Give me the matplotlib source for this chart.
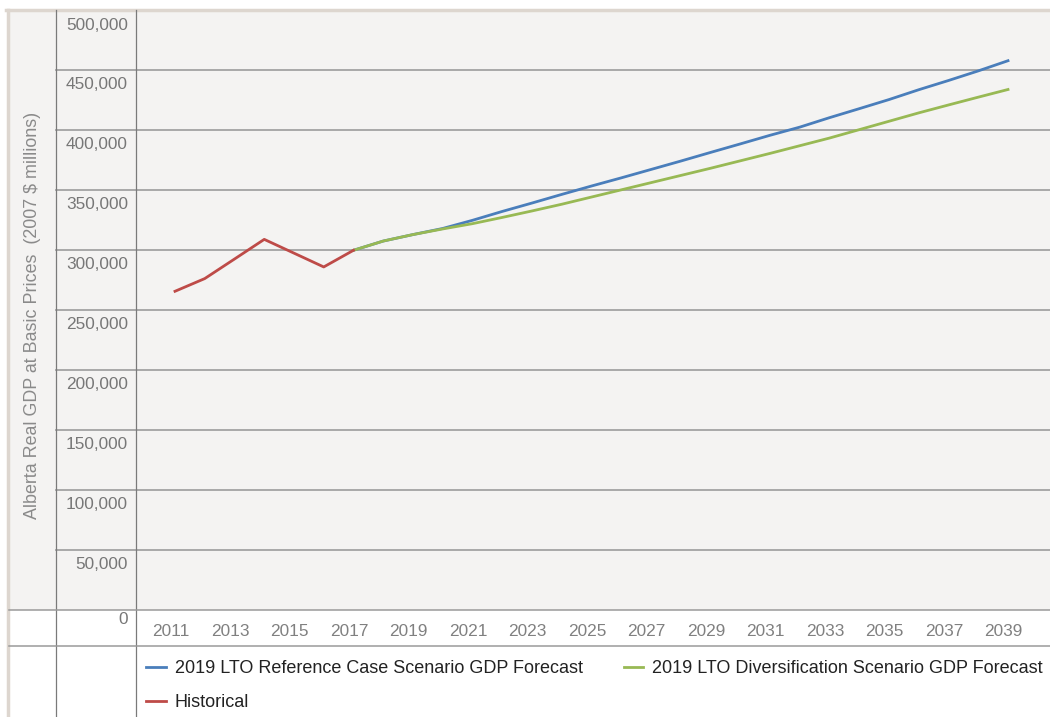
import matplotlib
matplotlib.use('Agg')
import matplotlib.pyplot as plt
import matplotlib.transforms as mtransforms
from matplotlib.lines import Line2D
from matplotlib.patches import Rectangle

plt.rcParams['font.family'] = ['Liberation Sans', 'DejaVu Sans']

hist_years = [2011, 2012, 2013, 2014, 2015, 2016, 2017]
hist_gdp = [265400, 276000, 292300, 308700, 297200, 285700, 299600]

fc_years = list(range(2017, 2040))
ref_gdp = [299600, 307300, 312700, 317800, 324600, 332000, 339000, 346200,
           353200, 360000, 367000, 374000, 381200, 388300, 395500, 402300,
           410200, 417700, 425300, 433500, 441200, 449200, 457700]
div_gdp = [299600, 307300, 312700, 317400, 321800, 327000, 332400, 338000,
           344000, 350000, 356000, 362000, 368000, 374200, 380400, 386800,
           393200, 400200, 407200, 414200, 420800, 427300, 433700]

yticks = [0, 50000, 100000, 150000, 200000, 250000, 300000, 350000,
          400000, 450000, 500000]
xticks = list(range(2011, 2040, 2))

W, H = 1050, 717
fig = plt.figure(figsize=(W / 100, H / 100), dpi=100)


def fx(px):
    return px / W


def fy(py):
    return 1 - py / H


# table frame: gray panel, white rows below, tan border
fig.patches.append(Rectangle((fx(8), fy(610)), 1 - fx(8), fy(10) - fy(610),
                             transform=fig.transFigure, facecolor='#f4f3f2',
                             edgecolor='none', zorder=-5))
fig.lines.append(Line2D([fx(6), 1], [fy(9.5), fy(9.5)], transform=fig.transFigure,
                        color='#ddd6cf', lw=2.5, zorder=1))
fig.lines.append(Line2D([fx(7.5), fx(7.5)], [fy(9.5), 0], transform=fig.transFigure,
                        color='#ddd6cf', lw=2.5, zorder=1))
for xv in (55.5, 135.5):
    fig.lines.append(Line2D([fx(xv), fx(xv)], [fy(10), 0], transform=fig.transFigure,
                            color='#7a7a7a', lw=0.9, zorder=3))
for yv in (610, 646):
    fig.lines.append(Line2D([fx(9), 1], [fy(yv), fy(yv)], transform=fig.transFigure,
                            color='#9a9a9a', lw=1.1, zorder=3))

ax = fig.add_axes([fx(135), fy(609.5), 1 - fx(135), fy(10) - fy(609.5)])
ax.patch.set_alpha(0)
for s in ax.spines.values():
    s.set_visible(False)

ax.set_ylim(0, 500000)
x_left = 2011 - 40 / 29.75
x_right = 2011 + (W - 175) / 29.75
ax.set_xlim(x_left, x_right)
ax.set_xticks([])
ax.set_yticks([])

# horizontal grid, running into the tick-label column
xmin_ext = (55.5 - 135) / (W - 135)
for v in yticks[1:-1]:
    ax.axhline(v, xmin=xmin_ext, xmax=1, color='#a3a3a3', lw=1.3,
               clip_on=False, zorder=1)

# y tick labels sit at the top of each cell
trans = mtransforms.blended_transform_factory(ax.transAxes, ax.transData)
for v in yticks:
    dy = -0.03 if v == 0 else -0.075
    off = mtransforms.ScaledTranslation(0, dy, fig.dpi_scale_trans)
    ax.text(-7 / (W - 135), v, f'{v:,}', transform=trans + off,
            ha='right', va='top', fontsize=12.4, color='#777777')

# x tick labels in the row below the panel
xtrans = mtransforms.blended_transform_factory(ax.transData, fig.transFigure)
for yr in xticks:
    ax.text(yr - 0.15, fy(631), str(yr), transform=xtrans, ha='center',
            va='center', fontsize=12.4, color='#808080')

fig.text(fx(33), fy(315), 'Alberta Real GDP at Basic Prices  (2007 $ millions)',
         rotation=90, ha='center', va='center', fontsize=12.9, color='#8a8a8a')

l_ref, = ax.plot(fc_years, ref_gdp, color='#4a7ebb', lw=2.0, zorder=4,
                 label='2019 LTO Reference Case Scenario GDP Forecast')
l_div, = ax.plot(fc_years, div_gdp, color='#98b954', lw=2.0, zorder=5,
                 label='2019 LTO Diversification Scenario GDP Forecast')
l_hist, = ax.plot(hist_years, hist_gdp, color='#be4b48', lw=2.0, zorder=6,
                  label='Historical')

fig.legend(handles=[l_ref, l_hist, l_div], ncol=2, frameon=False,
           loc='upper left', bbox_to_anchor=(fx(137), fy(651)),
           fontsize=13, handlelength=1.1, handletextpad=0.5,
           columnspacing=2.25, labelspacing=0.95, borderpad=0.0,
           labelcolor='#222222')

fig.savefig('out.png', dpi=100)
